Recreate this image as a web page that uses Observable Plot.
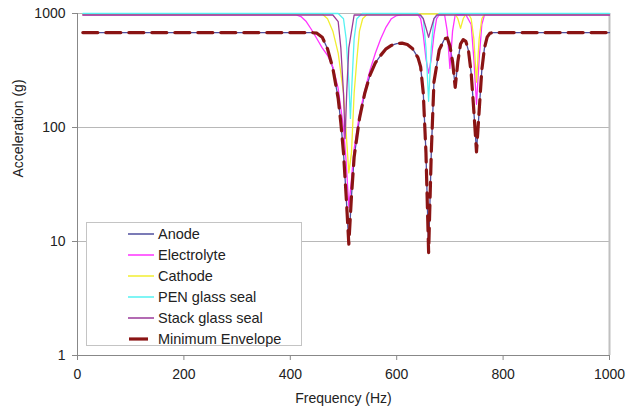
<!DOCTYPE html>
<html>
<head>
<meta charset="utf-8">
<script src="https://cdn.jsdelivr.net/npm/d3@7"></script>
<script src="https://cdn.jsdelivr.net/npm/@observablehq/plot@0.6"></script>
<style>
  html, body { margin: 0; padding: 0; background: #fff; }
  #wrap { position: relative; width: 628px; height: 414px; font-family: "Liberation Sans", Arial, sans-serif; }
  #legend { position: absolute; left: 86px; top: 222px; width: 216px; height: 124px; background: #fff; border: 1px solid #c4c4c4; box-sizing: border-box; }
</style>
</head>
<body>
<div id="wrap"><div id="chart"></div><div id="legend"></div></div>
<script>
// Series names and colours
const seriesNames = ["Anode", "Electrolyte", "Cathode", "PEN glass seal", "Stack glass seal", "Minimum Envelope"];
const seriesColors = ["#4f4f9e", "#ff33ff", "#f2ee30", "#55f2f2", "#9a3a9a", "#8a1414"];

// Tick labels
const xTicks = [0, 200, 400, 600, 800, 1000];
const yTicks = [1, 10, 100, 1000];

// Anode (frequency Hz, acceleration g)
const anodeF = [10, 440, 450, 460, 470, 480, 490, 495, 500, 505, 510, 515, 520, 530, 540, 550, 560, 570, 580, 590, 600, 610, 620, 630, 640, 645, 650, 655, 660, 665, 670, 680, 690, 695, 700, 705, 710, 715, 720, 725, 730, 735, 740, 745, 750, 755, 760, 765, 770, 775, 780, 1000];
const anodeG = [680, 680, 672, 620, 490, 330, 180, 110, 60, 25, 9.5, 25, 55, 120, 200, 290, 370, 430, 490, 525, 545, 550, 535, 490, 410, 340, 200, 60, 8, 60, 250, 480, 600, 610, 520, 380, 225, 380, 540, 590, 570, 470, 300, 140, 61, 140, 320, 500, 620, 670, 680, 680];

// Electrolyte
const electrolyteF = [10, 410, 420, 430, 440, 450, 460, 470, 480, 490, 500, 505, 510, 515, 520, 530, 540, 550, 560, 570, 580, 590, 600, 610, 640, 645, 650, 655, 660, 665, 670, 675, 680, 690, 695, 700, 705, 710, 720, 730, 740, 745, 750, 755, 760, 765, 770, 1000];
const electrolyteG = [975, 975, 940, 850, 720, 600, 500, 430, 340, 220, 100, 50, 20, 35, 65, 130, 210, 320, 450, 600, 760, 900, 960, 975, 975, 900, 650, 400, 300, 400, 650, 900, 975, 975, 700, 330, 700, 975, 975, 975, 800, 400, 160, 400, 800, 975, 975, 975];

// Cathode
const cathodeF = [10, 460, 470, 480, 490, 500, 505, 510, 515, 520, 525, 530, 536, 545, 710, 715, 720, 725, 730, 735, 740, 745, 750, 755, 760, 765, 1000];
const cathodeG = [990, 990, 900, 700, 450, 200, 90, 40, 60, 200, 390, 700, 900, 990, 990, 900, 740, 900, 990, 990, 900, 600, 250, 600, 900, 990, 990];

// PEN glass seal
const penF = [10, 490, 500, 505, 510, 513, 516, 520, 525, 535, 640, 650, 655, 660, 665, 670, 680, 1000];
const penG = [1000, 1000, 900, 600, 250, 120, 250, 600, 900, 1000, 1000, 900, 500, 170, 500, 900, 1000, 1000];

// Stack glass seal
const stackF = [10, 480, 490, 495, 500, 503, 506, 510, 520, 645, 650, 655, 660, 665, 670, 675, 1000];
const stackG = [970, 970, 850, 500, 200, 80, 200, 500, 970, 970, 900, 750, 617, 750, 900, 970, 970];

// Minimum Envelope
const envelopeF = anodeF.slice();
const envelopeG = anodeG.slice();

const rows = (f, g, s) => f.map((x, i) => ({f: x, g: g[i], s}));
const data = [
  ...rows(anodeF, anodeG, seriesNames[0]),
  ...rows(electrolyteF, electrolyteG, seriesNames[1]),
  ...rows(cathodeF, cathodeG, seriesNames[2]),
  ...rows(penF, penG, seriesNames[3]),
  ...rows(stackF, stackG, seriesNames[4])
];
const env = rows(envelopeF, envelopeG, seriesNames[5]);

const chart = Plot.plot({
  width: 628,
  height: 414,
  marginLeft: 77,
  marginRight: 19,
  marginTop: 13,
  marginBottom: 59,
  style: {fontFamily: "'Liberation Sans', Arial, sans-serif", fontSize: "14px", color: "#222", background: "#fff"},
  x: {domain: [0, 1000]},
  y: {type: "log", domain: [1, 1000]},
  color: {domain: seriesNames, range: seriesColors},
  marks: [
    Plot.ruleY(yTicks.slice(1), {stroke: "#b8b8b8", strokeWidth: 1}),
    Plot.ruleX([1000], {stroke: "#c0c0c0", strokeWidth: 2}),
    Plot.axisY({ticks: yTicks, tickFormat: d => String(d), tickSize: 5, tickPadding: 7, stroke: "#888", label: null, fontSize: 14}),
    Plot.axisX({ticks: xTicks, tickFormat: d => String(d), tickSize: 5, tickPadding: 9, stroke: "#888", label: null, fontSize: 14}),
    Plot.ruleX([0], {stroke: "#888"}),
    Plot.ruleY([1], {stroke: "#888"}),
    Plot.line(data, {x: "f", y: "g", z: "s", stroke: "s", strokeWidth: 1.3}),
    Plot.line(env, {x: "f", y: "g", stroke: "s", strokeWidth: 3.2, strokeDasharray: "15,8"}),
    Plot.text(["Frequency (Hz)"], {frameAnchor: "bottom", dy: 47, text: d => d, fontSize: 14, fill: "#222"}),
    Plot.text(["Acceleration (g)"], {frameAnchor: "left", dx: -59, dy: -7, rotate: -90, text: d => d, fontSize: 14, fill: "#222"})
  ]
});
document.getElementById("chart").appendChild(chart);

// Legend
const lg = d3.select("#legend").append("svg").attr("width", 216).attr("height", 124)
  .style("font-family", "'Liberation Sans', Arial, sans-serif").style("font-size", "14.5px");
seriesNames.forEach((name, i) => {
  const y = 11 + i * 21;
  const isEnv = i === 5;
  lg.append("line").attr("x1", isEnv ? 42 : 41).attr("x2", isEnv ? 61 : 67).attr("y1", y).attr("y2", y)
    .attr("stroke", seriesColors[i]).attr("stroke-width", isEnv ? 3.2 : 1.5);
  lg.append("text").attr("x", 71).attr("y", y).attr("dy", "0.35em").attr("fill", "#222").text(name);
});
</script>
</body>
</html>
